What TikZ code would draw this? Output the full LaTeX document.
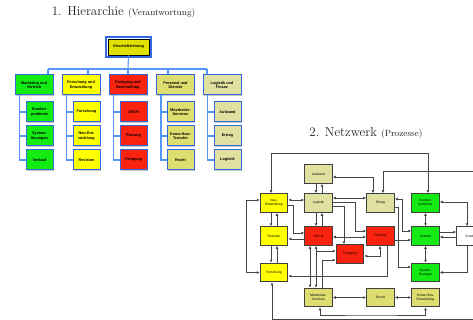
\documentclass[tikz,border=0pt]{standalone}
\usepackage{fontspec}
\setsansfont{Liberation Sans}
\usetikzlibrary{arrows.meta,shadows}

\definecolor{hbord}{RGB}{50,105,225}
\definecolor{hconncol}{RGB}{85,150,250}
\definecolor{cgreen}{RGB}{20,235,20}
\definecolor{cyellow}{RGB}{255,255,0}
\definecolor{cred}{RGB}{250,35,15}
\definecolor{ckhaki}{RGB}{222,222,112}
\definecolor{clkhaki}{RGB}{224,224,160}
\definecolor{croot}{RGB}{225,225,0}
\definecolor{nedge}{RGB}{70,70,70}
\definecolor{ttl}{RGB}{35,35,35}

\newcommand\hlabelfont{\sffamily\bfseries\fontsize{3.8}{4.4}\selectfont}
\newcommand\nlabelfont{\sffamily\fontsize{3.3}{4}\selectfont}

\begin{document}
\begin{tikzpicture}[x=1pt,y=-1pt,
  >={Latex[length=3pt,width=2.8pt]},
  hbox/.style={draw=hbord, line width=1pt, inner sep=0pt, minimum width=38pt,
    minimum height=20pt, align=center, font=\hlabelfont,
    drop shadow={shadow xshift=.9pt, shadow yshift=-.9pt, fill=black!22, opacity=1}},
  hleaf/.style={hbox, minimum width=27pt},
  hconn/.style={draw=hconncol, line width=1.1pt},
  nbox/.style={draw=black!75, line width=1pt, inner sep=0pt, minimum width=27.5pt,
    minimum height=18.5pt, align=center, font=\nlabelfont},
  nconn/.style={draw=nedge, line width=.95pt},
  ttlnode/.style={text=ttl, inner sep=0pt}]

\fill[white] (0,0) rectangle (473,320);
\useasboundingbox (0,0) rectangle (473,320);
\clip (0,0) rectangle (473,320);

% ---------- titles
\node[ttlnode] (title1) at (123.5,12.5) {\fontsize{13}{15}\selectfont 1. Hierarchie {\fontsize{9}{11}\selectfont (Verantwortung)}};
\node[ttlnode] (title2) at (366,133) {\fontsize{13}{15}\selectfont 2. Netzwerk {\fontsize{9}{11}\selectfont (Prozesse)}};

% ---------- organisation chart
\node[hbox, fill=croot, draw=black, line width=.8pt, minimum width=41pt, minimum height=16pt] (root) at (128.5,47) {Geschäftsleitung};
\draw[hbord, line width=1.7pt] ([xshift=-1.5pt,yshift=1.5pt]root.north west) rectangle ([xshift=1.5pt,yshift=-1.5pt]root.south east);

\node[hbox, fill=cgreen]  (p1) at (34,85)    {Marketing und\\Vertrieb};
\node[hbox, fill=cyellow] (p2) at (81,85)    {Forschung und\\Entwicklung};
\node[hbox, fill=cred]    (p3) at (128,85)   {Fertigung und\\Beschaffung};
\node[hbox, fill=ckhaki]  (p4) at (175.5,85) {Personal und\\Dienste};
\node[hbox, fill=clkhaki] (p5) at (222,85)   {Logistik und\\Finanz};

\node[hleaf, fill=cgreen]  (l11) at (39.5,112) {Kunden-\\probleme};
\node[hleaf, fill=cgreen]  (l12) at (39.5,136) {System-\\lösungen};
\node[hleaf, fill=cgreen]  (l13) at (39.5,160) {Verkauf};
\node[hleaf, fill=cyellow] (l21) at (86.5,112) {Forschung};
\node[hleaf, fill=cyellow] (l22) at (86.5,136) {Neu-Ent-\\wicklung};
\node[hleaf, fill=cyellow] (l23) at (86.5,160) {Revision};
\node[hleaf, fill=cred]    (l31) at (133.5,112) {ARCH};
\node[hleaf, fill=cred]    (l32) at (133.5,136) {Planung};
\node[hleaf, fill=cred]    (l33) at (133.5,160) {Fertigung};
\node[hleaf, fill=ckhaki]  (l41) at (180.5,112) {Mitarbeiter-\\Services};
\node[hleaf, fill=ckhaki]  (l42) at (180.5,136) {Know-How-\\Transfer};
\node[hleaf, fill=ckhaki]  (l43) at (180.5,160) {Recht};
\node[hleaf, fill=clkhaki] (l51) at (227.5,112) {Aufwand};
\node[hleaf, fill=clkhaki] (l52) at (227.5,136) {Ertrag};
\node[hleaf, fill=clkhaki] (l53) at (227.5,160) {Logistik};

\coordinate (bus) at (128,69);
\coordinate (busL) at (48,69);
\coordinate (busR) at (207,69);
\draw[hconn] (root.south) -- (bus);
\draw[hconn] (busL) -- (busR);
\foreach \x/\p in {48/p1,88/p2,128/p3,168/p4,207/p5}{
  \coordinate (drop) at (\x,69);
  \draw[hconn] (drop) -- (drop |- \p.north);
}
\foreach \i in {1,...,5}{
  \coordinate (spine) at ([xshift=5pt]p\i.south west);
  \draw[hconn] (spine) |- (l\i3.west);
  \draw[hconn] (spine |- l\i1.west) -- (l\i1.west);
  \draw[hconn] (spine |- l\i2.west) -- (l\i2.west);
}

% ---------- process network
\node[nbox, fill=clkhaki] (aufw) at (318.5,174) {Aufwand};
\node[nbox, fill=cyellow] (neu)  at (274,203)   {Neu-\\Entwicklung};
\node[nbox, fill=clkhaki] (logi) at (318.5,203) {Logistik};
\node[nbox, fill=clkhaki] (ertr) at (380.5,203) {Ertrag};
\node[nbox, fill=cgreen]  (kpro) at (425.5,203) {Kunden-\\probleme};
\node[nbox, fill=cyellow] (revi) at (274,236)   {Revision};
\node[nbox, fill=cred]    (arch) at (318.5,236) {ARCH};
\node[nbox, fill=cred]    (plan) at (380.5,236) {Planung};
\node[nbox, fill=cgreen]  (verk) at (425.5,236) {Verkauf};
\node[nbox, fill=white]   (kund) at (470.5,236) {Kunde};
\node[nbox, fill=cred]    (fert) at (350,254)   {Fertigung};
\node[nbox, fill=cyellow] (fors) at (274,272.5) {Forschung};
\node[nbox, fill=cgreen]  (syst) at (425.5,272.5) {System-\\lösungen};
\node[nbox, fill=ckhaki]  (mits) at (318.5,297.5) {Mitarbeiter-\\Services};
\node[nbox, fill=ckhaki]  (rech) at (380.5,297.5) {Recht};
\node[nbox, fill=ckhaki]  (know) at (425.5,297.5) {Know-How-\\Entwicklung};

% long loops along the top
\coordinate (ta) at (428,153);
\draw[nconn,<->] ([xshift=-3pt]neu.north) |- (ta) -- ([xshift=2.5pt]kpro.north);
\coordinate (tb) at (482,171);
\draw[nconn,<-] ([xshift=2.5pt]ertr.north) |- (tb) -- ([xshift=11.5pt]kund.north);
\draw[nconn,<->] ([yshift=-3pt]aufw.east) -| ([xshift=-7.5pt]ertr.north);
\draw[nconn,->] ([xshift=-2.5pt]aufw.south) -- ([xshift=-2.5pt]logi.north);
\draw[nconn,<-] ([xshift=3.5pt]aufw.south) -- ([xshift=3.5pt]logi.north);

% first row
\draw[nconn,<->] ([yshift=3pt]neu.east) -- ([yshift=3pt]logi.west);
\draw[nconn,<->] ([yshift=5pt]logi.east) -- ([yshift=5pt]ertr.west);
\coordinate (ka) at (355,231);
\draw[nconn,->] ([yshift=1pt]logi.east) -| (ka) -- (ka -| plan.west);
\draw[nconn,->] ([yshift=-3.5pt]logi.east) -| ([xshift=-6pt]fert.north);
\coordinate (kb) at (293,233);
\draw[nconn,->] ([yshift=-2pt]neu.east) -| (kb) -- (kb -| arch.west);
\draw[nconn,->] ([xshift=-3pt]neu.south) -- ([xshift=-3pt]revi.north);
\draw[nconn,<-] ([xshift=3pt]neu.south) -- ([xshift=3pt]revi.north);
\draw[nconn,->] ([xshift=-2.5pt]logi.south) -- ([xshift=-2.5pt]arch.north);
\draw[nconn,<-] ([xshift=3.5pt]logi.south) -- ([xshift=3.5pt]arch.north);
\coordinate (kh) at (402,231);
\draw[nconn,<->] ([yshift=4pt]ertr.east) -| (kh) -- (kh -| verk.west);
\coordinate (ki) at (398,267);
\draw[nconn,->] ([yshift=-4pt]ertr.east) -| (ki) -- (ki -| syst.west);
\draw[nconn,<->] (kpro.south) -- (verk.north);
\draw[nconn,<->] ([yshift=1pt]kpro.east) -| ([xshift=-3.5pt]kund.north);

% left side
\coordinate (kd) at (246,200);
\draw[nconn,<->] ([yshift=3pt]neu.west) -- (kd) |- (fors.west);
\draw[nconn,->] ([xshift=-3pt]revi.south) -- ([xshift=-3pt]fors.north);
\draw[nconn,<-] ([xshift=3pt]revi.south) -- ([xshift=3pt]fors.north);

% second row
\draw[nconn,<-] ([yshift=-3pt]revi.east) -- ([yshift=-3pt]arch.west);
\draw[nconn,<->] ([yshift=-1pt]arch.east) -- ([yshift=-1pt]plan.west);
\draw[nconn,->] ([yshift=-4pt]plan.east) -- ([yshift=-4pt]verk.west);
\draw[nconn,->] ([yshift=4pt]verk.east) -- ([yshift=4pt]kund.west);
\draw[nconn,<-] ([yshift=-1pt]verk.east) -- ([yshift=-1pt]kund.west);
\draw[nconn,<->] (verk.south) -- (syst.north);
\draw[nconn,->] ([xshift=-3.5pt]kund.south) |- (syst.east);

% production block
\draw[nconn,<->] ([xshift=-8.5pt]arch.south) -- ([xshift=-8.5pt]mits.north);
\draw[nconn,<->] ([xshift=-2.5pt]arch.south) -- ([xshift=-2.5pt]mits.north);
\coordinate (kf) at (316,251);
\draw[nconn,->] (kf) -- (kf -| fert.west);
\coordinate (kg) at (322,260);
\draw[nconn,<-] (kg -| fert.west) -- (kg) -- ([xshift=3.5pt]mits.north);
\coordinate (kl) at (387,276);
\draw[nconn,->] ([xshift=6.5pt]plan.south) -- (kl) -- (kl -| fors.east);
\draw[nconn,<->] ([yshift=-2pt]fert.east) -| ([xshift=-0.5pt]plan.south);

% bottom row
\draw[nconn,<->] (mits.east) -- (rech.west);
\draw[nconn,<->] (rech.east) -- (know.west);
\coordinate (kk) at (370,315);
\draw[nconn,<->] ([xshift=1.5pt]mits.south) |- (kk) -| (know.south);
\coordinate (kj) at (482,319);
\coordinate (fs) at ([xshift=-2pt]fors.south);
\draw[nconn,->] ([xshift=11.5pt]kund.south) |- (kj) -| (fs);
\end{tikzpicture}
\end{document}
